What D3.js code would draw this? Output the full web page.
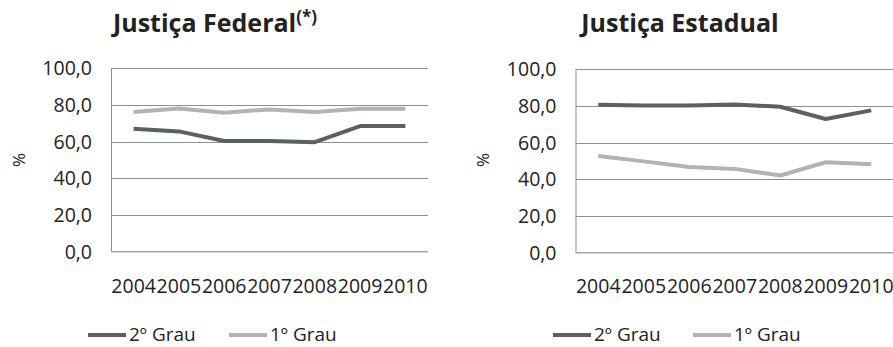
<!DOCTYPE html>
<html>
<head>
<meta charset="utf-8">
<script src="https://cdn.jsdelivr.net/npm/d3@7"></script>
<style>
  html, body { margin: 0; padding: 0; background: #fff; }
  svg { display: block; }
  text { font-family: "Open Sans", "Noto Sans", sans-serif; fill: #222; }
</style>
</head>
<body>
<svg id="chart" width="893" height="347"></svg>
<script>
// Years on the x axis
const years = ["2004", "2005", "2006", "2007", "2008", "2009", "2010"];
// Y axis ticks (percent)
const yTicks = [0, 20, 40, 60, 80, 100];
// Series names
const seriesNames = ["2º Grau", "1º Grau"];
// Justiça Federal
const federal2Grau = [67.0, 65.6, 60.4, 60.3, 59.7, 68.5, 68.5];
const federal1Grau = [76.2, 78.1, 75.8, 77.6, 76.2, 78.0, 78.0];
// Justiça Estadual
const estadual2Grau = [80.7, 80.2, 80.2, 80.8, 79.6, 72.9, 77.6];
const estadual1Grau = [52.7, 49.8, 46.7, 45.7, 42.1, 49.3, 48.2];

const colors = ["#5b615f", "#b3b3b3"];

const svg = d3.select("#chart");
const fmt = d => d.toFixed(1).replace(".", ",");

function panel(opts) {
  const g = svg.append("g");
  const x = d3.scaleBand().domain(years).range([opts.x0, opts.x1]);
  const y = d3.scaleLinear().domain([0, 100]).range([opts.y0, opts.y1]);

  // horizontal gridlines
  g.append("g").selectAll("line").data(yTicks.filter(t => t > 0)).join("line")
    .attr("x1", opts.x0).attr("x2", opts.x1)
    .attr("y1", d => Math.round(y(d)) + 0.5).attr("y2", d => Math.round(y(d)) + 0.5)
    .attr("stroke", "#8f8f8f").attr("stroke-width", 1);

  // axis frame: left and bottom
  g.append("line")
    .attr("x1", opts.x0 + 0.5).attr("x2", opts.x0 + 0.5)
    .attr("y1", y(100)).attr("y2", y(0))
    .attr("stroke", "#8f8f8f");
  g.append("line")
    .attr("x1", opts.x0).attr("x2", opts.x1)
    .attr("y1", y(0)).attr("y2", y(0))
    .attr("stroke", "#a8a8a8").attr("stroke-width", 1.5);

  // y tick labels
  g.append("g").selectAll("text").data(yTicks).join("text")
    .attr("x", opts.x0 - 19).attr("y", d => y(d)).attr("dy", "0.36em")
    .attr("text-anchor", "end").attr("font-size", 19.5)
    .text(fmt);

  // x labels
  g.append("g").selectAll("text").data(years).join("text")
    .attr("x", d => x(d) + x.bandwidth() / 2).attr("y", 293)
    .attr("text-anchor", "middle").attr("font-size", 19.5)
    .text(d => d);

  // y axis title
  g.append("text")
    .attr("transform", `translate(${opts.pctX},160) rotate(-90)`)
    .attr("text-anchor", "middle").attr("dy", "0.35em").attr("font-size", 17)
    .text("%");

  // lines
  const line = d3.line()
    .x((d, i) => x(years[i]) + x.bandwidth() / 2)
    .y(d => y(d));
  [opts.s2, opts.s1].forEach((s, i) => {
    g.append("path").datum(s).attr("d", line)
      .attr("fill", "none").attr("stroke", colors[i])
      .attr("stroke-width", 4).attr("stroke-linejoin", "round");
  });

  // title
  const t = g.append("text")
    .attr("x", opts.titleX).attr("y", 32)
    .attr("text-anchor", "middle").attr("font-weight", "bold").attr("font-size", 25)
    .attr("fill", "#111");
  t.append("tspan").text(opts.title);
  if (opts.sup) {
    t.append("tspan").attr("font-size", 17).attr("dy", -9).text(opts.sup);
  }

  // legend
  const lg = g.append("g");
  seriesNames.forEach((name, i) => {
    const lx = opts.legendX[i];
    lg.append("line")
      .attr("x1", lx).attr("x2", lx + 38).attr("y1", 335).attr("y2", 335)
      .attr("stroke", colors[i]).attr("stroke-width", 4);
    lg.append("text")
      .attr("x", lx + 41).attr("y", 341).attr("font-size", 19)
      .text(name);
  });
}

panel({
  x0: 111, x1: 428, y0: 251.7, y1: 68.3,
  s2: federal2Grau, s1: federal1Grau,
  title: "Justiça Federal", sup: "(*)", titleX: 215,
  pctX: 19, legendX: [88, 229]
});

panel({
  x0: 575.5, x1: 894, y0: 252.7, y1: 69.3,
  s2: estadual2Grau, s1: estadual1Grau,
  title: "Justiça Estadual", sup: null, titleX: 680,
  pctX: 483, legendX: [553, 693]
});
</script>
</body>
</html>
